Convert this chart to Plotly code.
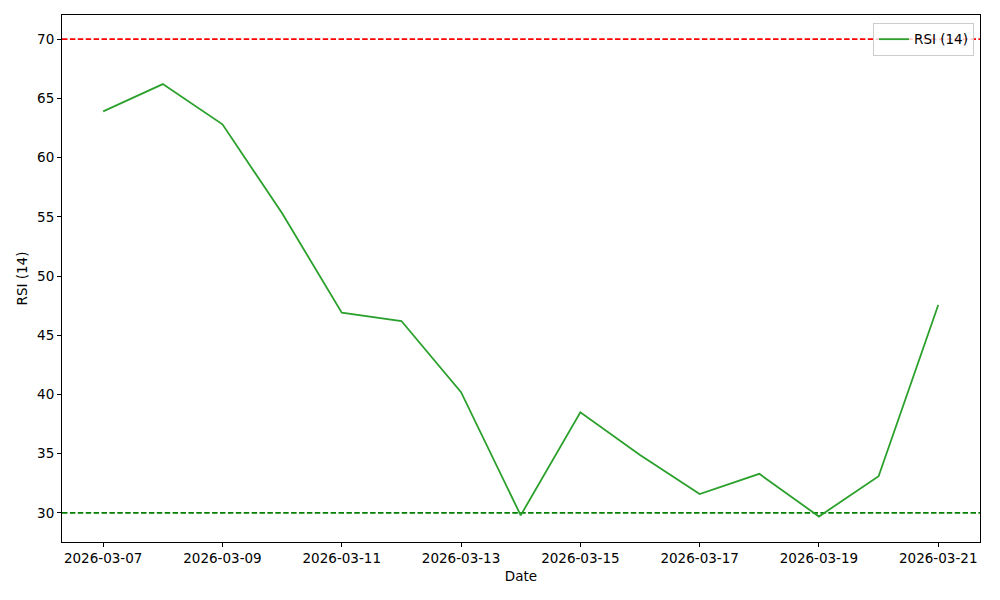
import plotly.graph_objects as go

dates = ["2026-03-07", "2026-03-08", "2026-03-09", "2026-03-10", "2026-03-11",
         "2026-03-12", "2026-03-13", "2026-03-14", "2026-03-15", "2026-03-16",
         "2026-03-17", "2026-03-18", "2026-03-19", "2026-03-20", "2026-03-21"]
rsi = [63.9, 66.2, 62.8, 55.3, 46.9, 46.2, 40.2, 29.8, 38.5, 34.9,
       31.6, 33.3, 29.7, 33.1, 47.55]
overbought = 70
oversold = 30
x_ticks = ["2026-03-07", "2026-03-09", "2026-03-11", "2026-03-13",
           "2026-03-15", "2026-03-17", "2026-03-19", "2026-03-21"]
y_ticks = [30, 35, 40, 45, 50, 55, 60, 65, 70]

font = "DejaVu Sans, Liberation Sans, sans-serif"

fig = go.Figure()
fig.add_trace(go.Scatter(x=dates, y=rsi, mode="lines", name="RSI (14)",
                         line=dict(color="#2ca02c", width=1.8)))
fig.add_hline(y=overbought, line=dict(color="red", width=1.8, dash="5.5px,2.4px"), layer="below")
fig.add_hline(y=oversold, line=dict(color="green", width=1.8, dash="5.5px,2.4px"), layer="below")

fig.update_layout(
    width=1000, height=600,
    margin=dict(l=62, r=20, t=15, b=58),
    paper_bgcolor="white", plot_bgcolor="white",
    font=dict(family=font, size=13.5, color="black"),
    showlegend=True,
    legend=dict(x=0.9935, y=0.985, xanchor="right", yanchor="top",
                bgcolor="rgba(255,255,255,0.8)", bordercolor="#cccccc", borderwidth=1,
                itemwidth=30, font=dict(size=13.5), tracegroupgap=0),
    xaxis=dict(
        title=dict(text="Date", font=dict(size=13.5), standoff=6),
        type="date",
        range=["2026-03-06 07:26", "2026-03-21 16:48"],
        tickvals=x_ticks, ticktext=x_ticks,
        showgrid=False, zeroline=False,
        showline=True, linecolor="black", linewidth=1, mirror=True,
        ticks="outside", ticklen=4, tickcolor="black",
    ),
    yaxis=dict(
        title=dict(text="RSI (14)", font=dict(size=13.5), standoff=6),
        range=[27.55, 72.03],
        tickvals=y_ticks,
        showgrid=False, zeroline=False,
        showline=True, linecolor="black", linewidth=1, mirror=True,
        ticks="outside", ticklen=4, tickcolor="black",
    ),
)

fig.write_html("out.html", config={"displayModeBar": False},
               post_script="document.body.style.margin='0';")
